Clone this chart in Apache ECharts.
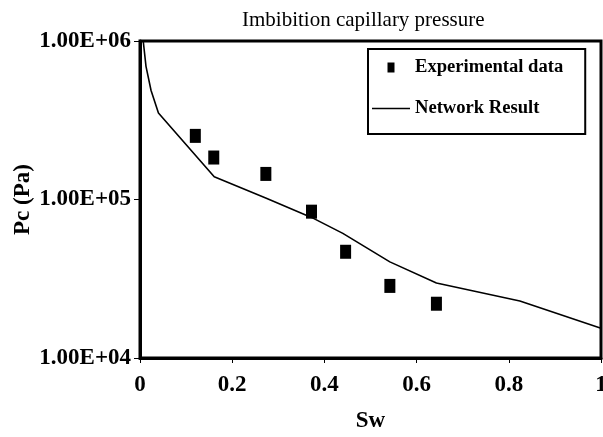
<!DOCTYPE html>
<html>
<head>
<meta charset="utf-8">
<script src="https://cdn.jsdelivr.net/npm/echarts@6/dist/echarts.min.js"></script>
<style>
html,body{margin:0;padding:0;background:#fff;}
#chart{width:603px;height:437px;}
</style>
</head>
<body>
<div id="chart"></div>
<script>
// Experimental data (Sw, Pc in Pa)
var expSw = [0.12, 0.16, 0.273, 0.372, 0.446, 0.542, 0.643];
var expPc = [252000, 184000, 145000, 83800, 46800, 28500, 22000];

// Network result curve (Sw, Pc in Pa)
var netSw = [0.007, 0.013, 0.024, 0.04, 0.161, 0.274, 0.372, 0.44, 0.542, 0.643, 0.824, 1.0];
var netPc = [1000000, 692000, 487000, 351000, 139000, 101800, 77100, 61100, 40400, 29700, 22900, 15400];

// Tick labels
var xTickLabels = ['0', '0.2', '0.4', '0.6', '0.8', '1'];
var yTickLabels = ['1.00E+04', '1.00E+05', '1.00E+06'];

var seriesNames = ['Experimental data', 'Network Result'];
var titleText = 'Imbibition capillary pressure';

function zip(a, b) { return a.map(function (v, i) { return [v, b[i]]; }); }

var FONT = "'Liberation Serif', 'Times New Roman', serif";
var chart = echarts.init(document.getElementById('chart'), null, { renderer: 'canvas' });

chart.setOption({
  animation: false,
  backgroundColor: '#fff',
  title: {
    text: titleText,
    left: 242,
    top: 10,
    padding: 0,
    textStyle: { fontFamily: FONT, fontSize: 21, fontWeight: 'normal', color: '#000' }
  },
  legend: {
    orient: 'vertical',
    left: 368,
    top: 49,
    padding: [9, 22, 16, 4],
    itemWidth: 38,
    itemHeight: 10,
    itemGap: 22,
    borderColor: '#000',
    borderWidth: 2,
    data: [
      { name: seriesNames[0], icon: 'path://M0,0H7V10H0Z', itemStyle: { color: '#000', opacity: 1 } },
      { name: seriesNames[1], icon: 'path://M0,0H38V1.5H0Z', itemStyle: { color: '#000', opacity: 1 } }
    ],
    textStyle: { fontFamily: FONT, fontSize: 18.6, fontWeight: 'bold', color: '#000', lineHeight: 18 }
  },
  grid: {
    left: 140, right: 2, top: 41, bottom: 79,
    outerBoundsMode: 'none',
    containLabel: false,
    show: true, borderColor: '#000', borderWidth: 3
  },
  xAxis: {
    type: 'value',
    min: 0, max: 1, interval: 0.2,
    name: 'Sw',
    nameLocation: 'middle',
    nameGap: 52,
    nameMoveOverlap: false,
    nameTextStyle: { fontFamily: FONT, fontSize: 23, fontWeight: 'bold', color: '#000' },
    axisLine: { show: true, lineStyle: { color: '#000', width: 3 } },
    axisTick: { show: true, length: 5, lineStyle: { color: '#000', width: 1 } },
    axisLabel: {
      margin: 16,
      fontFamily: FONT, fontSize: 23, fontWeight: 'bold', color: '#000',
      formatter: function (v) { return xTickLabels[Math.round(v / 0.2)]; }
    },
    splitLine: { show: false }
  },
  yAxis: {
    type: 'log',
    logBase: 10,
    min: 10000, max: 1000000,
    name: 'Pc (Pa)',
    nameLocation: 'middle',
    nameRotate: 90,
    nameGap: 105,
    nameMoveOverlap: false,
    nameTextStyle: { fontFamily: FONT, fontSize: 23, fontWeight: 'bold', color: '#000' },
    axisLine: { show: true, lineStyle: { color: '#000', width: 3 } },
    axisTick: { show: true, length: 6, lineStyle: { color: '#000', width: 1 } },
    axisLabel: {
      margin: 9,
      fontFamily: FONT, fontSize: 23, fontWeight: 'bold', color: '#000',
      formatter: function (v) { return yTickLabels[Math.round(Math.log10(v)) - 4]; }
    },
    splitLine: { show: false },
    minorTick: { show: false }
  },
  series: [
    {
      name: seriesNames[1],
      type: 'line',
      data: zip(netSw, netPc),
      symbol: 'none',
      showSymbol: false,
      smooth: false,
      lineStyle: { color: '#000', width: 1.6 },
      itemStyle: { color: '#000' },
      z: 2
    },
    {
      name: seriesNames[0],
      type: 'scatter',
      data: zip(expSw, expPc),
      symbol: 'rect',
      symbolSize: [11, 14],
      itemStyle: { color: '#000', opacity: 1 },
      z: 3
    }
  ]
});
</script>
</body>
</html>
